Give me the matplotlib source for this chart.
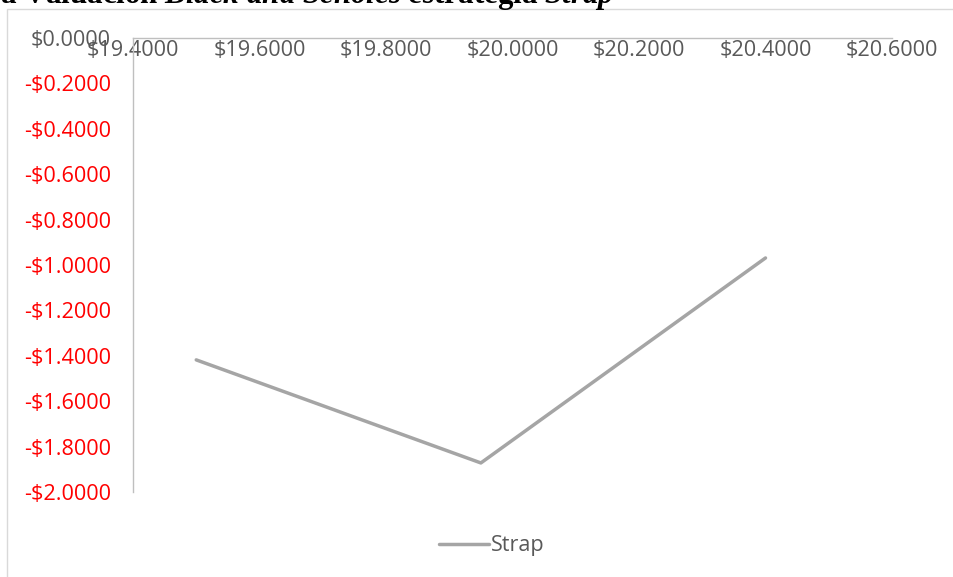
import matplotlib
matplotlib.use("Agg")
import matplotlib.pyplot as plt
from matplotlib.patches import Rectangle
from matplotlib.ticker import FuncFormatter

# Data
series_name = "Strap"
spot_prices = [19.50, 19.95, 20.40]
payoff = [-1.418, -1.872, -0.969]
x_ticks = [19.4, 19.6, 19.8, 20.0, 20.2, 20.4, 20.6]
y_ticks = [0.0, -0.2, -0.4, -0.6, -0.8, -1.0, -1.2, -1.4, -1.6, -1.8, -2.0]
title_text = "a Valuación $\\mathit{Black\\ and\\ Scholes}$ estrategia $\\mathit{Strap}$"

plt.rcParams["mathtext.fontset"] = "custom"
plt.rcParams["mathtext.rm"] = "Liberation Serif:bold"
plt.rcParams["mathtext.it"] = "Liberation Serif:italic:bold"
plt.rcParams["mathtext.bf"] = "Liberation Serif:bold"

FONT = "Open Sans"
GRAY_TXT = "#595959"
FS = 15.6

fig = plt.figure(figsize=(9.54, 5.77), dpi=100)

# outer chart border
fig.patches.append(Rectangle((7/954, -0.01), 1.0, 1 - 9/577 + 0.01,
                             transform=fig.transFigure, fill=False,
                             edgecolor="#d9d9d9", linewidth=1.0))

# title cut at top
fig.text(614/954, 1 - 3.5/577, title_text,
         ha="right", va="baseline", fontsize=22.2, fontweight="bold",
         family="Liberation Serif", color="black")

ax = fig.add_axes([133/954, 1 - 492/577, (892 - 133)/954, (492 - 38)/577])
ax.plot(spot_prices, payoff, color="#a5a5a5", linewidth=2.5,
        solid_capstyle="round", label=series_name)

ax.set_xlim(19.4, 20.6)
ax.set_ylim(-2.0, 0.0)
ax.set_xticks(x_ticks)
ax.set_yticks(y_ticks)

def fmt(v, pos=None):
    if v < -1e-9:
        return "-${:.4f}".format(-v)
    return "${:.4f}".format(abs(v))

ax.xaxis.set_major_formatter(FuncFormatter(fmt))
ax.yaxis.set_major_formatter(FuncFormatter(fmt))

for s in ["right", "top"]:
    ax.spines[s].set_visible(False)
ax.spines["bottom"].set_position(("data", 0))
ax.spines["bottom"].set_color("#bfbfbf")
ax.spines["left"].set_color("#bfbfbf")
ax.spines["bottom"].set_linewidth(1.0)
ax.spines["left"].set_linewidth(1.0)
ax.tick_params(axis="both", length=0, labelsize=FS, labelcolor=GRAY_TXT)
ax.tick_params(axis="x", pad=1.5)
ax.tick_params(axis="y", pad=16)
for lab in ax.get_xticklabels() + ax.get_yticklabels():
    lab.set_family(FONT)
for lab, v in zip(ax.get_yticklabels(), y_ticks):
    lab.set_color("red" if v < 0 else GRAY_TXT)

leg = fig.legend(loc="center", bbox_to_anchor=(492/954, 1 - 546/577),
                 frameon=False, handlelength=2.3, handletextpad=0.1,
                 prop={"family": FONT, "size": FS})
for t in leg.get_texts():
    t.set_color(GRAY_TXT)

fig.savefig("out.png", dpi=100)
